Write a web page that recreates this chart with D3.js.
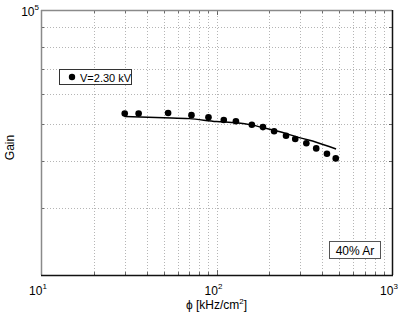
<!DOCTYPE html>
<html>
<head>
<meta charset="utf-8">
<script src="https://cdn.jsdelivr.net/npm/d3@7"></script>
<style>
  body { margin: 0; background: #fff; }
  text { font-family: "Liberation Sans", Arial, sans-serif; fill: #000; }
</style>
</head>
<body>
<div id="chart"></div>
<script>
// measured points
const phiData = [30, 36, 53, 72, 90, 110, 129, 159, 184, 213, 249, 281, 325, 370, 426, 478];
const gainData = [53300, 53300, 53500, 52800, 52100, 51250, 50900, 49800, 49100, 47900, 46600, 45700, 44500, 43150, 41750, 40600];
// fit curve
const phiFit = [30, 50, 70, 100, 130, 160, 210, 250, 300, 370, 480];
const gainFit = [52400, 52000, 51700, 50800, 50400, 49700, 48200, 47200, 46000, 44800, 43000];

const xTicks = [10, 100, 1000];
const yTicks = [100000];
const legendLabel = "V=2.30 kV";
const noteLabel = "40% Ar";

const width = 409, height = 314;
const margin = { top: 10, right: 17, bottom: 39, left: 41 };

const svg = d3.select("#chart").append("svg")
    .attr("width", width)
    .attr("height", height);

const x = d3.scaleLog().domain([10, 1000]).range([margin.left, width - margin.right]);
const y = d3.scaleLog().domain([20000, 100000]).range([height - margin.bottom, margin.top]);

const x0 = x.range()[0], x1 = x.range()[1];
const y0 = y.range()[0], y1 = y.range()[1];

// minor grid values
const xMinor = [];
[10, 100].forEach(d => { for (let k = 2; k <= 9; k++) xMinor.push(d * k); });
const xGrid = xMinor.concat([100]);
const yGrid = [];
for (let k = 2; k <= 9; k++) yGrid.push(k * 10000);

const grid = svg.append("g")
    .attr("stroke", "#b5b5b5")
    .attr("stroke-width", 1)
    .attr("stroke-dasharray", "1,2");

grid.selectAll("line.vx")
    .data(xGrid)
    .enter().append("line")
    .attr("x1", d => Math.round(x(d)) + 0.5)
    .attr("x2", d => Math.round(x(d)) + 0.5)
    .attr("y1", y1)
    .attr("y2", y0);

grid.selectAll("line.hy")
    .data(yGrid.filter(d => d > 20000))
    .enter().append("line")
    .attr("x1", x0)
    .attr("x2", x1)
    .attr("y1", d => Math.round(y(d)) + 0.5)
    .attr("y2", d => Math.round(y(d)) + 0.5);

// minor ticks on the bottom and top
const ticks = svg.append("g").attr("stroke", "#444").attr("stroke-width", 0.8);
ticks.selectAll("line.bt")
    .data(xMinor.concat(xTicks))
    .enter().append("line")
    .attr("x1", d => Math.round(x(d)) + 0.5)
    .attr("x2", d => Math.round(x(d)) + 0.5)
    .attr("y1", y0)
    .attr("y2", d => y0 - (xTicks.includes(d) ? 5 : 3));
ticks.selectAll("line.tt")
    .data(xMinor.concat(xTicks))
    .enter().append("line")
    .attr("x1", d => Math.round(x(d)) + 0.5)
    .attr("x2", d => Math.round(x(d)) + 0.5)
    .attr("y1", y1)
    .attr("y2", d => y1 + (xTicks.includes(d) ? 5 : 3));
ticks.selectAll("line.lt")
    .data(yGrid)
    .enter().append("line")
    .attr("x1", x0)
    .attr("x2", x0 + 3)
    .attr("y1", d => Math.round(y(d)) + 0.5)
    .attr("y2", d => Math.round(y(d)) + 0.5);
ticks.selectAll("line.rt")
    .data(yGrid)
    .enter().append("line")
    .attr("x1", x1)
    .attr("x2", x1 - 3)
    .attr("y1", d => Math.round(y(d)) + 0.5)
    .attr("y2", d => Math.round(y(d)) + 0.5);

// frame: top/left grey, bottom/right dark
svg.append("line").attr("x1", x0).attr("x2", x1).attr("y1", y1 + 0.5).attr("y2", y1 + 0.5)
    .attr("stroke", "#8a8a8a").attr("stroke-width", 1.5);
svg.append("line").attr("x1", x0 + 0.5).attr("x2", x0 + 0.5).attr("y1", y1).attr("y2", y0)
    .attr("stroke", "#8a8a8a").attr("stroke-width", 1.5);
svg.append("line").attr("x1", x0).attr("x2", x1 + 1).attr("y1", y0 + 0.5).attr("y2", y0 + 0.5)
    .attr("stroke", "#111").attr("stroke-width", 1.5);
svg.append("line").attr("x1", x1 + 0.5).attr("x2", x1 + 0.5).attr("y1", y1).attr("y2", y0)
    .attr("stroke", "#111").attr("stroke-width", 1.5);

// tick labels as 10^n
function powLabel(sel, val, px, py, anchor) {
    const t = sel.append("text").attr("x", px).attr("y", py)
        .attr("text-anchor", anchor).attr("font-size", 12);
    t.append("tspan").text("10");
    t.append("tspan").attr("dy", -6).attr("font-size", 8).text(Math.round(Math.log10(val)));
}
xTicks.forEach(d => powLabel(svg, d, x(d) - 3, y0 + 20, "middle"));
yTicks.forEach(d => powLabel(svg, d, x0 - 2, y(d) + 6, "end"));

// axis titles
const xl = svg.append("text")
    .attr("x", (x0 + x1) / 2)
    .attr("y", height - 5)
    .attr("text-anchor", "middle")
    .attr("font-size", 12);
xl.append("tspan").text("\u03D5 [kHz/cm");
xl.append("tspan").attr("dy", -5).attr("font-size", 8).text("2");
xl.append("tspan").attr("dy", 5).text("]");

svg.append("text")
    .attr("transform", `translate(14,${(y0 + y1) / 2 + 5}) rotate(-90)`)
    .attr("text-anchor", "middle")
    .attr("font-size", 12)
    .text("Gain");

// fit line
const line = d3.line()
    .x((d, i) => x(phiFit[i]))
    .y(d => y(d))
    .curve(d3.curveMonotoneX);
svg.append("path")
    .datum(gainFit)
    .attr("fill", "none")
    .attr("stroke", "#000")
    .attr("stroke-width", 1.5)
    .attr("d", line);

// data points
svg.selectAll("circle.pt")
    .data(gainData)
    .enter().append("circle")
    .attr("cx", (d, i) => x(phiData[i]))
    .attr("cy", d => y(d))
    .attr("r", 3.3)
    .attr("fill", "#000");

// legend
const lg = svg.append("g");
lg.append("rect")
    .attr("x", 59.5).attr("y", 69.5).attr("width", 72).attr("height", 15)
    .attr("fill", "#fff").attr("stroke", "#333").attr("stroke-width", 1);
lg.append("circle").attr("cx", 72).attr("cy", 77).attr("r", 3.2).attr("fill", "#000");
lg.append("text").attr("x", 80).attr("y", 81.5).attr("font-size", 11).text(legendLabel);

// note box
const nb = svg.append("g");
nb.append("rect")
    .attr("x", 329.5).attr("y", 241.5).attr("width", 51).attr("height", 17)
    .attr("fill", "#fff").attr("stroke", "#555").attr("stroke-width", 1);
nb.append("text").attr("x", 355).attr("y", 254.5).attr("text-anchor", "middle")
    .attr("font-size", 12).text(noteLabel);
</script>
</body>
</html>
